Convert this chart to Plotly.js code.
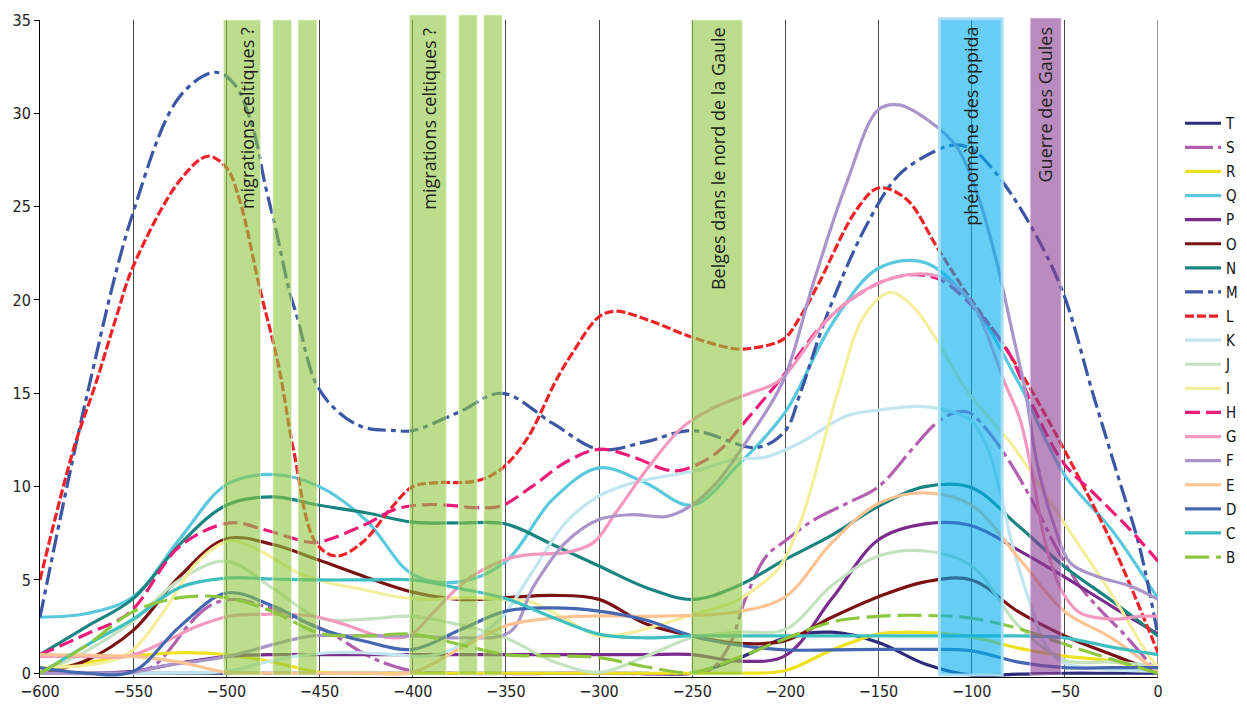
<!DOCTYPE html>
<html>
<head>
<meta charset="utf-8">
<script src="https://cdn.plot.ly/plotly-3.0.1.min.js"></script>
<style>html,body{margin:0;padding:0;background:#fff;}#chart{width:1247px;height:707px;}</style>
</head>
<body>
<div id="chart"></div>
<script>
// ---------- data ----------
const years = [-600,-575,-550,-525,-500,-475,-450,-425,-400,-375,-350,-325,-300,-275,-250,-225,-200,-175,-150,-125,-100,-75,-50,-25,0];

const yT = [0,0,0,0,0,0,0,0,0,0,0,0,0,0,0,0.8,1.9,2.2,1.65,0.5,-0.1,-0.05,0,0,0];
const xS = [-600,-560,-545,-537,-529,-521,-512,-505,-495,-480,-462,-445,-427,-418,-400,-380,-300,-250,-240,-230,-221,-210,-200,-185,-167,-150,-132,-119,-108,-101,-92,-84,-74,-62,-55,-42,-31,-19,0];
const yS = [0,0,0.1,0.55,1.45,2.5,3.4,3.8,3.96,3.6,2.9,2.2,1.1,0.66,0.12,0,0,0,0.2,1.5,4.1,6.3,7.1,8.2,9.1,10.0,12.0,13.4,14.0,13.95,13.06,12.0,10.4,8.2,6.8,4.67,3.4,2.18,0];
const yR = [0.1,0.57,0.93,1.1,1.0,0.6,0.05,0,0,0,0,0,0,0,0,0,0.15,1.25,2.1,2.18,1.95,1.35,0.92,0.65,0.05];
const yQ = [3.0,3.2,4.1,7.2,10.1,10.65,10.0,8.2,5.3,4.9,6.0,9.3,11.0,10.2,9.0,11.2,14.0,18.7,21.7,22.0,19.8,15.6,10.6,7.7,4.0];
const yP = [0,0,0.1,0.55,0.9,1.0,1.0,1.0,1.0,1.0,1.0,1.0,1.0,1.0,1.0,0.65,0.95,4.0,7.15,8.0,7.9,6.6,5.15,3.6,2.1];
const yO = [0,0.7,2.3,5.2,7.2,6.9,6.05,5.15,4.35,3.96,4.05,4.17,3.96,2.65,2.0,1.6,1.75,3.0,4.1,4.9,5.0,3.3,2.0,1.0,0.05];
const yN = [1.0,2.5,4.0,6.9,9.0,9.45,9.0,8.6,8.1,8.05,8.0,6.9,5.75,4.6,3.96,4.7,6.1,7.4,8.95,10.0,9.94,7.9,5.7,3.9,2.0];
const xM = [-600,-575,-550,-525,-506,-496,-486,-479,-473,-466,-462,-452,-441,-427,-409,-400,-375,-352,-325,-300,-275,-250,-215,-200,-192,-178,-157,-140,-125,-110,-100,-87,-69,-51,-35,-21,-10,0];
const yM = [3.0,14.8,24.7,30.9,32.2,31.6,29.3,26.1,23.6,20.4,19.1,15.55,14.1,13.2,13.0,13.0,14.0,15.0,13.4,12.0,12.4,13.0,12.1,13.0,15.0,19.1,23.9,26.6,27.7,28.3,28.1,26.8,24.1,20.4,15.0,10.4,6.8,2.0];
const xL = [-600,-582,-570,-559,-550,-525,-510,-500,-493,-482,-472,-464,-452,-441,-427,-412,-400,-389,-366,-353,-339,-323,-314,-300,-291,-273,-250,-228,-219,-201,-192,-182,-162,-150,-135,-119,-103,-85,-67,-42,-24,0];
const yL = [5.0,12.0,15.55,19.1,21.8,26.4,27.7,27.1,25.4,20.6,16.5,12.0,7.0,6.28,7.0,8.8,10.0,10.2,10.3,10.9,12.5,15.7,17.2,19.1,19.4,18.9,18.0,17.4,17.4,17.9,19.1,20.9,24.8,26.0,25.4,22.9,20.4,17.9,15.0,10.4,6.8,1.1];
const xK = [-600,-525,-500,-480,-462,-445,-427,-409,-391,-371,-353,-336,-318,-300,-282,-264,-246,-228,-210,-192,-167,-150,-128,-114,-101,-92,-85,-78,-67,-60,-51,-25,0];
const yK = [0,0.02,0.1,0.57,0.93,1.1,1.1,1.0,0.93,1.64,2.9,5.4,8.06,9.5,10.2,10.56,10.9,11.45,11.6,12.35,13.8,14.1,14.3,14.1,13.6,12.2,9.85,6.8,3.25,1.46,0.57,0.2,0.1];
const yJ = [0,1.2,2.8,5.0,6.0,4.55,2.95,2.9,3.05,2.6,1.9,0.65,0.05,0.9,1.9,2.2,2.35,4.7,6.28,6.55,5.75,2.55,0.7,0.6,0.4];
const xI = [-600,-570,-552,-534,-516,-498,-480,-462,-445,-427,-409,-391,-371,-350,-336,-318,-300,-282,-264,-246,-228,-210,-203,-192,-172,-158,-144,-132,-119,-103,-78,-60,-42,-24,-6,0];
const yI = [0.3,0.5,1.1,3.25,5.9,7.1,6.46,5.4,4.85,4.5,4.1,3.96,4.05,3.96,3.8,2.9,2.0,2.2,2.7,3.25,3.8,5.0,5.7,8.06,15.0,19.1,20.4,19.7,17.9,15.2,12.2,9.5,6.8,4.1,1.1,0.3];
const xH = [-600,-575,-552,-525,-498,-480,-462,-452,-427,-409,-391,-364,-353,-336,-318,-300,-282,-264,-255,-237,-219,-203,-176,-150,-132,-117,-103,-82,-67,-51,-33,-15,0];
const yH = [1.0,2.1,3.25,6.8,8.06,7.7,7.17,7.0,7.9,8.8,9.04,8.87,8.95,10.0,11.3,12.0,11.6,10.9,10.9,11.8,13.8,15.7,19.1,20.9,21.35,21.1,20.0,17.5,14.3,11.3,9.5,7.7,6.0];
const xG = [-600,-575,-552,-534,-516,-498,-480,-454,-436,-418,-402,-389,-371,-350,-336,-318,-303,-291,-273,-255,-237,-219,-203,-176,-150,-128,-114,-99,-82,-74,-67,-60,-51,-42,-24,-10,0];
const yG = [0.9,0.9,0.93,1.64,2.5,3.07,3.16,3.07,2.6,2.0,2.0,3.25,5.0,6.1,6.37,6.46,7.0,8.6,11.1,13.2,14.3,15.0,15.7,19.1,20.9,21.4,21.1,19.7,15.5,13.6,10.4,6.8,4.3,3.25,2.9,3.05,3.05];
const xF = [-600,-575,-550,-534,-515,-498,-471,-454,-427,-400,-375,-348,-335,-318,-300,-282,-264,-251,-237,-219,-201,-185,-167,-150,-139,-123,-108,-96,-87,-78,-71,-65,-55,-47,-33,-15,0];
const yF = [0,0,0.05,0.4,0.65,0.93,1.64,2.0,2.0,2.0,1.9,2.2,4.67,7.0,8.24,8.5,8.4,8.95,10.2,12.7,15.7,20.9,26.3,30.2,30.45,29.6,28.2,25.4,22.2,18.2,15.0,11.3,7.7,5.9,5.2,4.67,3.96];
const yE = [1.0,0.97,0.9,0.6,0.05,0,0,0,0.05,1.3,2.55,2.95,3.07,3.05,3.1,3.3,4.1,7.0,9.1,9.67,9.0,6.2,3.3,1.9,0.05];
const yD = [0.3,0,0.1,2.5,4.3,3.6,2.4,1.7,1.28,2.3,3.33,3.5,3.33,2.85,2.0,1.5,1.25,1.25,1.28,1.28,1.2,0.6,0.3,0.3,0.3];
const yC = [0,1.5,2.9,4.6,5.1,5.05,5.0,5.0,5.0,4.55,4.0,3.0,2.1,1.9,2.0,2.0,2.0,2.0,2.0,2.0,2.0,2.0,1.9,1.4,1.0];
const yB = [0,1.5,3.3,4.05,4.05,3.3,2.15,2.0,2.1,1.55,1.0,0.93,0.84,0.35,0.05,0.85,1.85,2.75,3.05,3.1,2.95,2.4,1.55,0.75,0];

const seriesNames = ['T','S','R','Q','P','O','N','M','L','K','J','I','H','G','F','E','D','C','B'];

// event periods (shaded bands) and their labels
const periodStart = [-501.5,-475,-461.5,-401.7,-375.2,-361.8,-250.4,-117.3,-68.6];
const periodEnd   = [-481.7,-465,-451.4,-382,-365.4,-352,-223.1,-83.6,-52];
const periodKind  = ['mig','mig','mig','mig2','mig2','mig2','belges','oppida','guerre'];
const labelText = ['migrations celtiques ?','migrations celtiques ?','Belges dans le nord de la Gaule','phénomène des oppida','Guerre des Gaules'];
const labelX = [-489,-391,-236.5,-100.3,-60.8];

const xTicks = [-600,-550,-500,-450,-400,-350,-300,-250,-200,-150,-100,-50,0];
const yTicks = [0,5,10,15,20,25,30,35];

// ---------- styles ----------
const seriesX = {T:years,S:xS,R:years,Q:years,P:years,O:years,N:years,M:xM,L:xL,K:xK,J:years,I:xI,H:xH,G:xG,F:xF,E:years,D:years,C:years,B:years};
const seriesY = {T:yT,S:yS,R:yR,Q:yQ,P:yP,O:yO,N:yN,M:yM,L:yL,K:yK,J:yJ,I:yI,H:yH,G:yG,F:yF,E:yE,D:yD,C:yC,B:yB};
const colors = {T:'#2E2C7A',S:'#B35FB0',R:'#EEE220',Q:'#5BC9DD',P:'#7B2B8C',O:'#7B1113',N:'#1A8481',M:'#3A56A5',L:'#EE2329',K:'#C2E6EF',J:'#C4E2C0',I:'#F4EF9C',H:'#EC1A78',G:'#F399C0',F:'#A995C9',E:'#FDC393',D:'#4566B1',C:'#40BFC1',B:'#8DC63F'};
const dashes = {M:'18px,5px,5px,5px',L:'9px,3px',H:'15px,6px',S:'28px,5px,5px,5px',B:'24px,7px'};

const FONT = '"Liberation Sans Narrow", "DejaVu Sans Condensed", "Liberation Sans", Arial, sans-serif';

const traces = seriesNames.map(n => ({
  type:'scatter', mode:'lines', name:n, legendgroup:n,
  x: seriesX[n], y: seriesY[n],
  line:{color:colors[n], width:3.2, shape:'spline', smoothing:1, dash: dashes[n] || 'solid'},
  hoverinfo:'skip'
}));

const kindStyle = {
  mig:   {fill:'rgba(141,198,63,0.6)', line:'rgba(230,245,215,0.7)', w:1, top:1.0},
  mig2:  {fill:'rgba(141,198,63,0.6)', line:'rgba(230,245,215,0.7)', w:1, top:1.0076},
  belges:{fill:'rgba(141,198,63,0.6)', line:'rgba(230,245,215,0.7)', w:1, top:1.0},
  oppida:{fill:'rgba(0,174,239,0.6)', line:'rgba(170,222,245,0.95)', w:3, top:1.002},
  guerre:{fill:'rgba(140,62,147,0.6)', line:'rgba(235,220,240,0.7)', w:1, top:1.003}
};
const shapes = periodStart.map((s,i) => {
  const st = kindStyle[periodKind[i]];
  return {type:'rect', layer:'above', xref:'x', yref:'paper', x0:s, x1:periodEnd[i], y0:0.003, y1:st.top,
          fillcolor:st.fill, line:{color:st.line, width:st.w}};
});
shapes.push({type:'line', layer:'below', xref:'x', yref:'paper', x0:0, x1:0, y0:0, y1:1, line:{color:'#9a9a9a', width:2}});

const annotations = labelText.map((t,i) => ({
  text:t, xref:'x', yref:'paper', x:labelX[i], y:0.992, xanchor:'center', yanchor:'top',
  textangle:-90, showarrow:false, font:{family:'"Open Sans", "Noto Sans", sans-serif', size:18, color:'#231F20'}
}));

const layout = {
  width:1247, height:707,
  margin:{l:40, r:89, t:20, b:30, autoexpand:false},
  paper_bgcolor:'#ffffff', plot_bgcolor:'#ffffff',
  showlegend:true,
  legend:{x:1.0197, xanchor:'left', y:0.8676, yanchor:'top', traceorder:'grouped', tracegroupgap:1.6,
          itemwidth:36, bgcolor:'rgba(0,0,0,0)', font:{family:FONT, size:15, color:'#111'}},
  xaxis:{range:[-600,0], tickmode:'array', tickvals:xTicks, showgrid:true, gridcolor:'#4a4a4a', gridwidth:1,
         zeroline:false, showline:true, linecolor:'#000', linewidth:1, ticks:'',
         tickfont:{family:FONT, size:16, color:'#222'}, fixedrange:true, automargin:false},
  yaxis:{range:[-0.2,35], tickmode:'array', tickvals:yTicks, showgrid:false, zeroline:false,
         showline:true, linecolor:'#000', linewidth:1, ticks:'outside', ticklen:5, tickcolor:'#000',
         tickfont:{family:FONT, size:16, color:'#222'}, fixedrange:true, automargin:false},
  shapes:shapes, annotations:annotations
};

Plotly.newPlot('chart', traces, layout, {displayModeBar:false, staticPlot:true});
</script>
</body>
</html>
